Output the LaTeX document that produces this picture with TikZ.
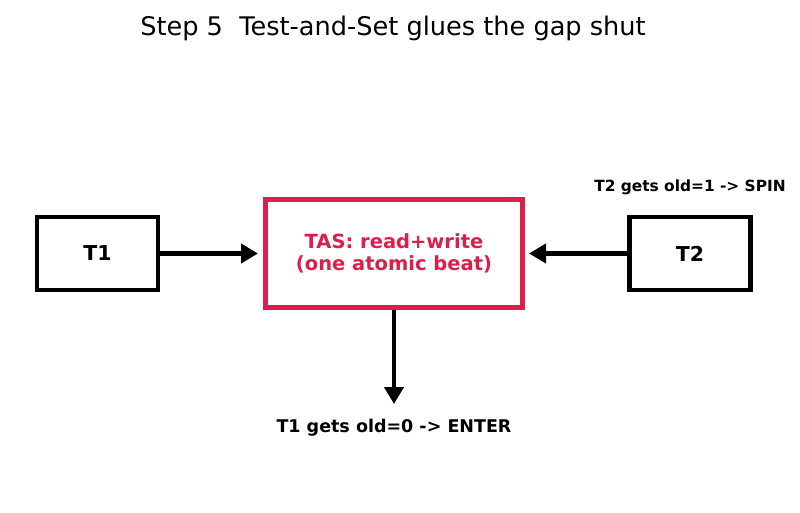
\documentclass[tikz,border=0pt]{standalone}
\usepackage{fontspec}
\setmainfont{DejaVu Sans}
\usetikzlibrary{arrows.meta}
\definecolor{tascol}{RGB}{220,30,75}
\begin{document}
\begin{tikzpicture}[x=1pt,y=-1pt,
  thbox/.style={draw=black,line width=4.2pt,minimum width=121pt,minimum height=73pt,font=\bfseries\fontsize{20.5}{24}\selectfont},
  conn/.style={line width=4.2pt,-{Triangle[length=17pt,width=19pt]}},
  lbl/.style={font=\bfseries\fontsize{17.5}{21}\selectfont}]
\useasboundingbox (0,0) rectangle (800,512);
\node[font=\fontsize{25.6}{30}\selectfont] (title) at (393,28) {Step 5\ \ Test-and-Set glues the gap shut};
\node[thbox] (t1) at (97.5,253.5) {T1};
\node[thbox] (t2) at (690,253.5) {T2};
\node[draw=tascol,line width=4.2pt,minimum width=257pt,minimum height=108pt,align=center,text=tascol,font=\bfseries\fontsize{19.5}{22}\selectfont] (tas) at (394,253.5) {TAS: read+write\\(one atomic beat)};
\coordinate (tin1) at (258,253.5);
\coordinate (tin2) at (529,253.5);
\coordinate (down) at (394,404);
\draw[conn] (t1.east) -- (tin1);
\draw[conn] (t2.west) -- (tin2);
\draw[conn] (tas.south) -- (down);
\node[lbl] (enter) at (394,427.5) {T1 gets old=0 -> ENTER};
\node[lbl,font=\bfseries\fontsize{15.4}{18}\selectfont] (spin) at (690,187.5) {T2 gets old=1 -> SPIN};
\end{tikzpicture}
\end{document}
